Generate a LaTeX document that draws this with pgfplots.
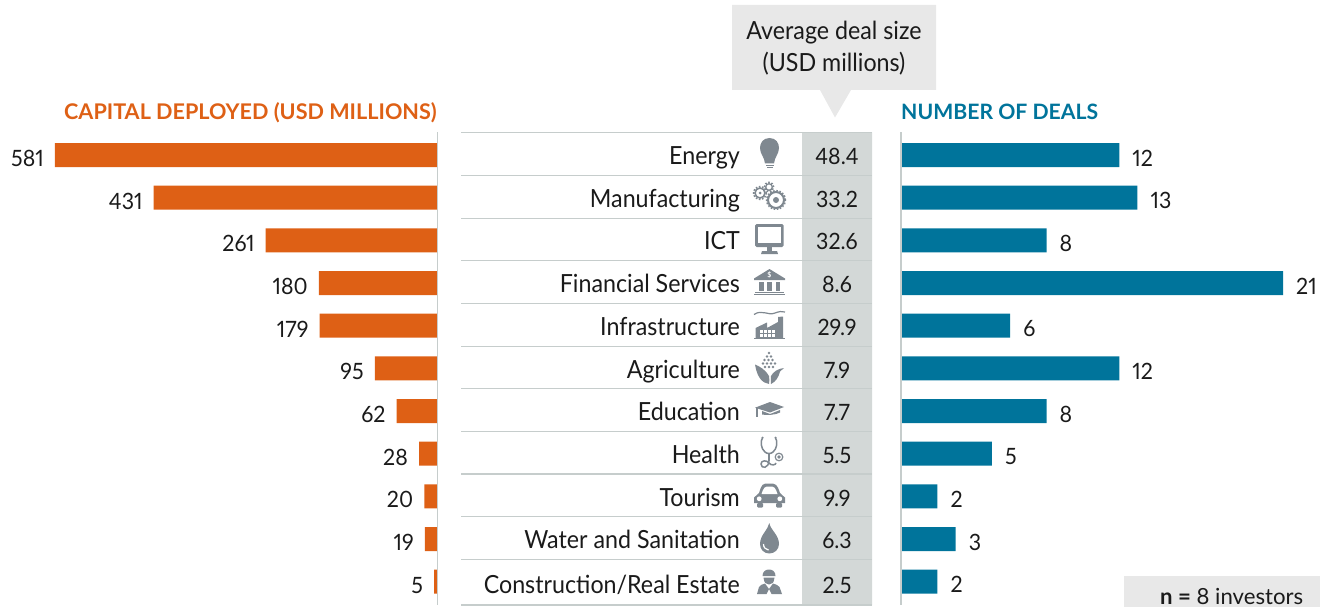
\documentclass[border=0pt]{standalone}
\usepackage{fontspec}
\setmainfont{Lato}
\newfontfamily\condf[FakeStretch=0.93]{Lato}
\newfontfamily\numf[Numbers=Proportional,FakeStretch=0.95]{Lato}
\usepackage{pgfplots}
\usepackage{pgfplotstable}
\pgfplotsset{compat=1.18}
\definecolor{org}{HTML}{DE6015}
\definecolor{teal2}{HTML}{00749B}
\definecolor{lin}{HTML}{C6CDCC}
\definecolor{col}{HTML}{D3D8D7}
\definecolor{box}{HTML}{E8E8E8}
\definecolor{ico}{HTML}{7F8890}
\definecolor{txt}{HTML}{1A1A1A}
\newcommand{\lab}{\condf\fontsize{25}{30}\selectfont}
\newcommand{\num}{\numf\fontsize{22.5}{26}\selectfont}

\pgfplotstableread{
row capital deals
0 581 12
1 431 13
2 261 8
3 180 21
4 179 6
5 95 12
6 62 8
7 28 5
8 20 2
9 19 3
10 5 2
}\bars

\pgfplotstableread[col sep=comma]{
py,lx,sx,cat,size
155,740,837,Energy,48.4
198,740,837,Manufacturing,33.2
240.5,740,837,ICT,32.6
283,740,837,Financial Services,8.6
326,740,837,Infrastructure,29.9
369,740,837,Agriculture,7.9
411.5,740,837,Education,7.7
454,740,837,Health,5.5
497,740,837,Tourism,9.9
539.5,740,837,Water and Sanitation,6.3
584,740,837,Construction/Real Estate,2.5
}\midt

\pgfplotsset{
  panel/.style={
    scale only axis, height=473pt, y dir=reverse,
    ymin=-0.539, ymax=10.546, ytick=\empty, xtick=\empty,
    axis lines=none, clip=false,
    /pgf/number format/assume math mode=true,
    bar width=24pt,
  },
}

\begin{document}
\begin{tikzpicture}
\useasboundingbox (0,0) rectangle (1320pt,-607pt);

% left panel
\begin{axis}[panel, at={(55pt,-605pt)}, anchor=south west, width=382.5pt,
  x dir=reverse, xmin=0, xmax=581]
\addplot[xbar, bar shift=0pt, fill=org, draw=none,
  nodes near coords,
  nodes near coords align={anchor=east},
  every node near coord/.append style={font=\num, text=txt, inner sep=0pt, anchor=east, xshift=-11pt, yshift=-3.5pt}]
  table[x=capital,y=row]{\bars};
\addplot[draw=lin, line width=1.2pt, forget plot] coordinates {(0,-0.539) (0,10.546)};
\end{axis}

% right panel
\begin{axis}[panel, at={(901pt,-605pt)}, anchor=south west, width=382pt,
  xmin=0, xmax=21]
\addplot[xbar, bar shift=0pt, fill=teal2, draw=none,
  nodes near coords,
  nodes near coords align={anchor=west},
  every node near coord/.append style={font=\num, text=txt, inner sep=0pt, anchor=west, xshift=13pt, yshift=-3pt}]
  table[x=deals,y=row]{\bars};
\addplot[draw=lin, line width=1.2pt, forget plot] coordinates {(0,-0.539) (0,10.546)};
\end{axis}

% middle table
\begin{axis}[at={(461pt,-605.3pt)}, anchor=south west, scale only axis,
  width=411pt, height=473pt, xmin=461, xmax=872, ymin=132, ymax=605.3, y dir=reverse,
  axis lines=none, clip=false, xtick=\empty,
  ]
\addplot[fill=col, draw=none] coordinates {(802,132) (872,132) (872,605.3) (802,605.3)} \closedcycle;
\addplot[draw=lin, line width=1.3pt, forget plot] coordinates {(461,132.5) (872,132.5)};
\addplot[draw=lin, line width=1.3pt, forget plot] coordinates {(461,175.3) (872,175.3)};
\addplot[draw=lin, line width=1.3pt, forget plot] coordinates {(461,218) (872,218)};
\addplot[draw=lin, line width=1.3pt, forget plot] coordinates {(461,260.5) (872,260.5)};
\addplot[draw=lin, line width=1.3pt, forget plot] coordinates {(461,303.3) (872,303.3)};
\addplot[draw=lin, line width=1.3pt, forget plot] coordinates {(461,346) (872,346)};
\addplot[draw=lin, line width=1.3pt, forget plot] coordinates {(461,388.7) (872,388.7)};
\addplot[draw=lin, line width=1.3pt, forget plot] coordinates {(461,431.3) (872,431.3)};
\addplot[draw=lin, line width=1.3pt, forget plot] coordinates {(461,474) (872,474)};
\addplot[draw=lin, line width=1.3pt, forget plot] coordinates {(461,516.7) (872,516.7)};
\addplot[draw=lin, line width=1.3pt, forget plot] coordinates {(461,559.3) (872,559.3)};
\addplot[draw=lin, line width=1.3pt, forget plot] coordinates {(461,605) (872,605)};
\addplot[only marks, mark size=0pt, draw=none,
  nodes near coords, point meta=explicit symbolic,
  every node near coord/.append style={font=\lab, text=txt, inner sep=0pt, anchor=base east, yshift=-9pt}]
  table[x=lx,y=py,meta=cat,col sep=comma]{\midt};
\addplot[only marks, mark size=0pt, draw=none,
  nodes near coords, point meta=explicit symbolic,
  every node near coord/.append style={font=\num, text=txt, inner sep=0pt, anchor=base, yshift=-9pt}]
  table[x=sx,y=py,meta=size,col sep=comma]{\midt};
\end{axis}

\begin{scope}[x=1pt,y=-1pt]
% headers
\node[anchor=base west, inner sep=0pt, text=org, font=\fontsize{21.6}{25}\selectfont\bfseries] at (64,120) {CAPITAL DEPLOYED (USD MILLIONS)};
\node[anchor=base west, inner sep=0pt, text=teal2, font=\fontsize{21.2}{25}\selectfont\bfseries] at (901,120) {NUMBER OF DEALS};
% callout
\fill[box] (732,5) -- (936,5) -- (936,90) -- (851,90) -- (835,117.5) -- (820,90) -- (732,90) -- cycle;
\node[anchor=base, inner sep=0pt, text=txt, font=\lab] at (834,39.5) {Average deal size};
\node[anchor=base, inner sep=0pt, text=txt, font=\lab] at (834,71.5) {(USD millions)};
% n box
\fill[box] (1124,576) rectangle (1320,607);
\node[anchor=base west, inner sep=0pt, text=txt, font=\fontsize{22.2}{26}\selectfont] at (1160,604.5) {\textbf{n =} 8 investors};

% icons
\begin{scope}[ico]
% bulb
\fill (769.5,138) .. controls (763,138) and (760,143) .. (760,148) .. controls (760,154) and (764.5,157) .. (765,163.5) -- (774,163.5) .. controls (774.5,157) and (779,154) .. (779,148) .. controls (779,143) and (776,138) .. (769.5,138) -- cycle;
\fill (765.5,164.6) rectangle (773.5,166);
\fill (766.5,167) rectangle (772.5,168.3);
% gears
\foreach \cx/\cy/\r/\w in {760/193/5/1.6, 769/187/3.3/1.3, 776/200/8/2} {
  \draw[line width=\w pt] (\cx,\cy) circle (\r pt);
  \pgfmathsetmacro{\rr}{\r+1.4}
  \draw[line width=1.5pt, dash pattern=on 1.6pt off 1.6pt] (\cx,\cy) circle (\rr pt);
}
\fill (776,200) circle (3pt);
\fill (760,193) circle (1.5pt);
% monitor
\fill[rounded corners=1.5pt] (755,224) rectangle (783.5,247);
\fill[white] (758,227) rectangle (780.5,242.5);
\fill (766.5,247) rectangle (772,251);
\fill (762,251) -- (777,251) -- (778,254) -- (761,254) -- cycle;
% bank
\fill (769.5,269) -- (785,278.5) -- (785,280) -- (754,280) -- (754,278.5) -- cycle;
\node[text=white, inner sep=0pt, font=\fontsize{7}{8}\selectfont\bfseries] at (769.5,274.8) {\$};
\fill (759,281.5) rectangle (763.5,291);
\fill (767.3,281.5) rectangle (771.8,291);
\fill (775.5,281.5) rectangle (780,291);
\fill (755,291.5) rectangle (784,292.8);
\fill (754,293.6) rectangle (785,295);
% factory
\draw[line width=1.2pt] (754,314.5) .. controls (762,309) and (768,316) .. (775,313) .. controls (779,311.5) and (782,311) .. (785,312);
\fill (755.5,338.5) -- (755.5,328) -- (767,322.5) -- (767,328) -- (778,322) -- (778,317) -- (783,316.5) -- (783,338.5) -- cycle;
\fill (754,338) rectangle (785,339.2);
\fill[white] (760,329.5) rectangle (763,332.5); \fill[white] (764,329.5) rectangle (767,332.5); \fill[white] (768,329.5) rectangle (771,332.5); \fill[white] (772,329.5) rectangle (775,332.5);
\fill[white] (760,333.5) rectangle (763,336.5); \fill[white] (764,333.5) rectangle (767,336.5); \fill[white] (768,333.5) rectangle (771,336.5); \fill[white] (772,333.5) rectangle (775,336.5);
% corn
\foreach \dx/\dy in {769/353, 767/356.5, 771/356.5, 764.5/360, 768.5/360, 772.5/360, 763/363.5, 767/363.5, 771/363.5, 775/363.5, 765/367, 769/367, 773/367} {
  \fill (\dx,\dy) circle (1.45pt);
}
\fill (755,364.5) .. controls (759,366) and (766,370) .. (769,376) .. controls (769.5,379) and (769.5,381) .. (769,384) .. controls (762,383) and (757,377) .. (755,364.5) -- cycle;
\fill (784,368) .. controls (778,368.5) and (773,372) .. (771,376) .. controls (770.8,379) and (770.8,381) .. (771,384) .. controls (776,382) and (779,376) .. (780,371.5) -- cycle;
% cap
\fill (755,407.7) -- (770,402) -- (784,407) -- (770,412.5) -- cycle;
\fill (762,411) -- (770,414) -- (780,410) -- (780,412.5) .. controls (776,415) and (766,415.5) .. (762,414.5) -- cycle;
\fill (756.2,408) rectangle (757.8,416.5);
% stethoscope
\draw[line width=1.5pt] (762.5,438) .. controls (760,441) and (761,449) .. (765,452) .. controls (767,454) and (771,454) .. (773,452) .. controls (777,449) and (778,441) .. (775.5,438);
\draw[line width=1.8pt] (769,453.5) -- (769,461);
\draw[line width=1.5pt] (769,460) .. controls (769,469) and (761,469) .. (761,464) .. controls (761,460) and (767,460) .. (769,463) .. controls (771,466) and (776,465) .. (776,463);
\fill (762.5,437.7) circle (1.2pt); \fill (775.5,437.7) circle (1.2pt);
\draw[line width=1.2pt] (779,457) circle (3.8pt);
\fill (779,457) circle (1.8pt);
% car
\fill (754,497.5) .. controls (756,495) and (758,495) .. (759,493) .. controls (762,484) and (762,483.5) .. (769,483.5) .. controls (776,483.5) and (777,484) .. (780,493) .. controls (781,495) and (783,495) .. (785,497.5) -- (785,503) -- (754,503) -- cycle;
\fill[white] (761.5,494) .. controls (764,487) and (764.5,486.5) .. (769.5,486.5) .. controls (774.5,486.5) and (775,487) .. (777.5,494) -- cycle;
\fill[rounded corners=1pt] (757,503) rectangle (763,507.5);
\fill[rounded corners=1pt] (776,503) rectangle (782,507.5);
\fill[white] (759.2,498.8) circle (2.4pt); \fill[white] (779.8,498.8) circle (2.4pt);
% drop
\fill (769.3,523) .. controls (768,530) and (760,535) .. (760,544) .. controls (760,549.5) and (764,553.5) .. (769.3,553.5) .. controls (774.5,553.5) and (779,549.5) .. (779,544) .. controls (779,535) and (770.5,530) .. (769.3,523) -- cycle;
\draw[white, line width=1.2pt] (763.5,544) .. controls (763.5,547.5) and (765.5,549.5) .. (768.5,550);
% worker
\fill (762.5,576) .. controls (762.5,571.5) and (765.5,569.5) .. (769,569.5) .. controls (772.5,569.5) and (775.5,571.5) .. (775.5,576) -- cycle;
\fill (763.5,577.5) .. controls (764,583) and (766,584.5) .. (769,584.5) .. controls (772,584.5) and (774,583) .. (774.5,577.5) -- cycle;
\fill (757,594) -- (759,587) .. controls (760,585) and (762,584.5) .. (765,583.5) -- (769,589) -- (773,583.5) .. controls (776,584.5) and (778,585) .. (779.5,587) -- (782,594) -- (771.5,594) -- (769,589) -- (766.5,594) -- cycle;
\end{scope}
\end{scope}
\end{tikzpicture}
\end{document}
